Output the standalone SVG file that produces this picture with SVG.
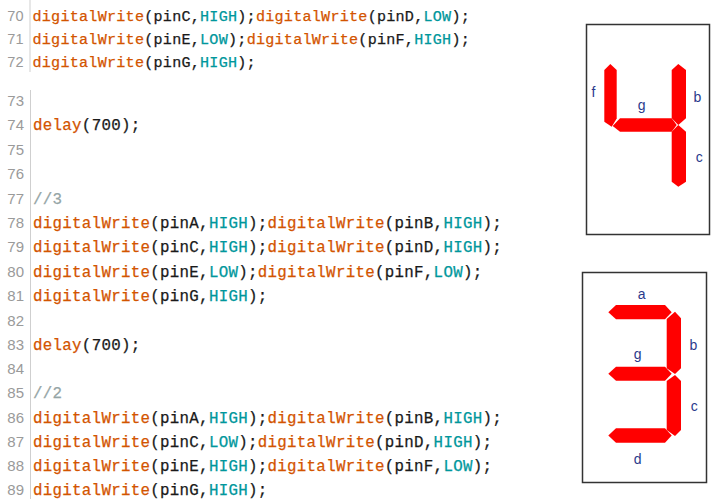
<svg xmlns="http://www.w3.org/2000/svg" width="715" height="499" viewBox="0 0 715 499">
<style>
.ln{font-family:"Liberation Sans",Arial,sans-serif;font-size:15px;fill:#9a9a9a;text-anchor:end}
.lnt{font-size:14.5px}
.code{font-family:"Liberation Mono","Courier New",monospace;font-size:15.8px;letter-spacing:0.29px;fill:#1a1a1a;stroke:#1a1a1a;stroke-width:0.25}
.top{font-size:15.1px;letter-spacing:0.25px}
.fn{fill:#d35400;stroke:#d35400}
.k{fill:#00979c;stroke:#00979c}
.cm{fill:#95a5a6;stroke:#95a5a6}
.box{fill:#ffffff;stroke:#333333;stroke-width:1.5}
.seg{fill:#ff0000}
.lbl{font-family:"Liberation Sans",Arial,sans-serif;font-size:14px;fill:#2b3a8c;text-anchor:middle}
</style>
<rect width="715" height="499" fill="#ffffff"/>
<g id="gutter" stroke="#cfcfcf" stroke-width="1">
<line x1="30" y1="0" x2="30" y2="72"/>
<line x1="30.5" y1="90" x2="30.5" y2="499"/>
</g>
<g id="line-numbers">
<text class="ln lnt" x="23.5" y="21">70</text>
<text class="ln lnt" x="23.5" y="44">71</text>
<text class="ln lnt" x="23.5" y="67">72</text>
<text class="ln" x="24" y="106">73</text>
<text class="ln" x="24" y="130">74</text>
<text class="ln" x="24" y="155">75</text>
<text class="ln" x="24" y="179">76</text>
<text class="ln" x="24" y="204">77</text>
<text class="ln" x="24" y="228">78</text>
<text class="ln" x="24" y="252">79</text>
<text class="ln" x="24" y="277">80</text>
<text class="ln" x="24" y="301">81</text>
<text class="ln" x="24" y="326">82</text>
<text class="ln" x="24" y="350">83</text>
<text class="ln" x="24" y="374">84</text>
<text class="ln" x="24" y="398">85</text>
<text class="ln" x="24" y="423">86</text>
<text class="ln" x="24" y="447">87</text>
<text class="ln" x="24" y="471">88</text>
<text class="ln" x="24" y="495">89</text>
</g>
<g id="code">
<text class="code top" x="32.5" y="21"><tspan class="fn">digitalWrite</tspan>(pinC,<tspan class="k">HIGH</tspan>);<tspan class="fn">digitalWrite</tspan>(pinD,<tspan class="k">LOW</tspan>);</text>
<text class="code top" x="32.5" y="44"><tspan class="fn">digitalWrite</tspan>(pinE,<tspan class="k">LOW</tspan>);<tspan class="fn">digitalWrite</tspan>(pinF,<tspan class="k">HIGH</tspan>);</text>
<text class="code top" x="32.5" y="67"><tspan class="fn">digitalWrite</tspan>(pinG,<tspan class="k">HIGH</tspan>);</text>
<text class="code" x="33" y="130"><tspan class="fn">delay</tspan>(700);</text>
<text class="code" x="33" y="204"><tspan class="cm">//3</tspan></text>
<text class="code" x="33" y="228"><tspan class="fn">digitalWrite</tspan>(pinA,<tspan class="k">HIGH</tspan>);<tspan class="fn">digitalWrite</tspan>(pinB,<tspan class="k">HIGH</tspan>);</text>
<text class="code" x="33" y="252"><tspan class="fn">digitalWrite</tspan>(pinC,<tspan class="k">HIGH</tspan>);<tspan class="fn">digitalWrite</tspan>(pinD,<tspan class="k">HIGH</tspan>);</text>
<text class="code" x="33" y="277"><tspan class="fn">digitalWrite</tspan>(pinE,<tspan class="k">LOW</tspan>);<tspan class="fn">digitalWrite</tspan>(pinF,<tspan class="k">LOW</tspan>);</text>
<text class="code" x="33" y="301"><tspan class="fn">digitalWrite</tspan>(pinG,<tspan class="k">HIGH</tspan>);</text>
<text class="code" x="33" y="350"><tspan class="fn">delay</tspan>(700);</text>
<text class="code" x="33" y="398"><tspan class="cm">//2</tspan></text>
<text class="code" x="33" y="423"><tspan class="fn">digitalWrite</tspan>(pinA,<tspan class="k">HIGH</tspan>);<tspan class="fn">digitalWrite</tspan>(pinB,<tspan class="k">HIGH</tspan>);</text>
<text class="code" x="33" y="447"><tspan class="fn">digitalWrite</tspan>(pinC,<tspan class="k">LOW</tspan>);<tspan class="fn">digitalWrite</tspan>(pinD,<tspan class="k">HIGH</tspan>);</text>
<text class="code" x="33" y="471"><tspan class="fn">digitalWrite</tspan>(pinE,<tspan class="k">HIGH</tspan>);<tspan class="fn">digitalWrite</tspan>(pinF,<tspan class="k">LOW</tspan>);</text>
<text class="code" x="33" y="494.5"><tspan class="fn">digitalWrite</tspan>(pinG,<tspan class="k">HIGH</tspan>);</text>
</g>
<g id="display-4">
<rect class="box" x="586.5" y="24.5" width="123" height="210"/>
<polygon class="seg" points="610.3,64 616.7,70 616.7,118.5 611.7,126.7 604.3,121.7 604.3,70"/>
<polygon class="seg" points="612.7,126 620,118.3 671.7,118.3 676.7,125 671.7,131.7 620,131.7"/>
<polygon class="seg" points="678.3,64 686,70 686,118.3 678.3,125 671.7,118.3 671.7,70"/>
<polygon class="seg" points="678.3,125 686,131.7 686,181.7 678.3,186.7 671.7,181.7 671.7,131.7"/>
<text class="lbl" x="593.5" y="96.7">f</text>
<text class="lbl" x="641.7" y="110">g</text>
<text class="lbl" x="697.3" y="101.7">b</text>
<text class="lbl" x="699.3" y="161.7">c</text>
</g>
<g id="display-3">
<rect class="box" x="582.5" y="272.5" width="124" height="210"/>
<polygon class="seg" points="608.3,312.2 616,305 665,305 671.7,312.2 665,319.3 616,319.3"/>
<polygon class="seg" points="675,311.7 681,318.3 681,368.3 675,374 666.7,368.3 666.7,319"/>
<polygon class="seg" points="608.3,373.7 616,366.7 665,366.7 671.7,373.7 665,380.7 616,380.7"/>
<polygon class="seg" points="675,375 681,381 681,430 675,436 666.7,430 666.7,381"/>
<polygon class="seg" points="608.3,435.5 616,428.3 665,428.3 671.7,435.5 665,442.7 616,442.7"/>
<text class="lbl" x="641.7" y="299.3">a</text>
<text class="lbl" x="693.3" y="350">b</text>
<text class="lbl" x="637.7" y="358.5">g</text>
<text class="lbl" x="694.3" y="410.7">c</text>
<text class="lbl" x="637.7" y="464">d</text>
</g>
</svg>
